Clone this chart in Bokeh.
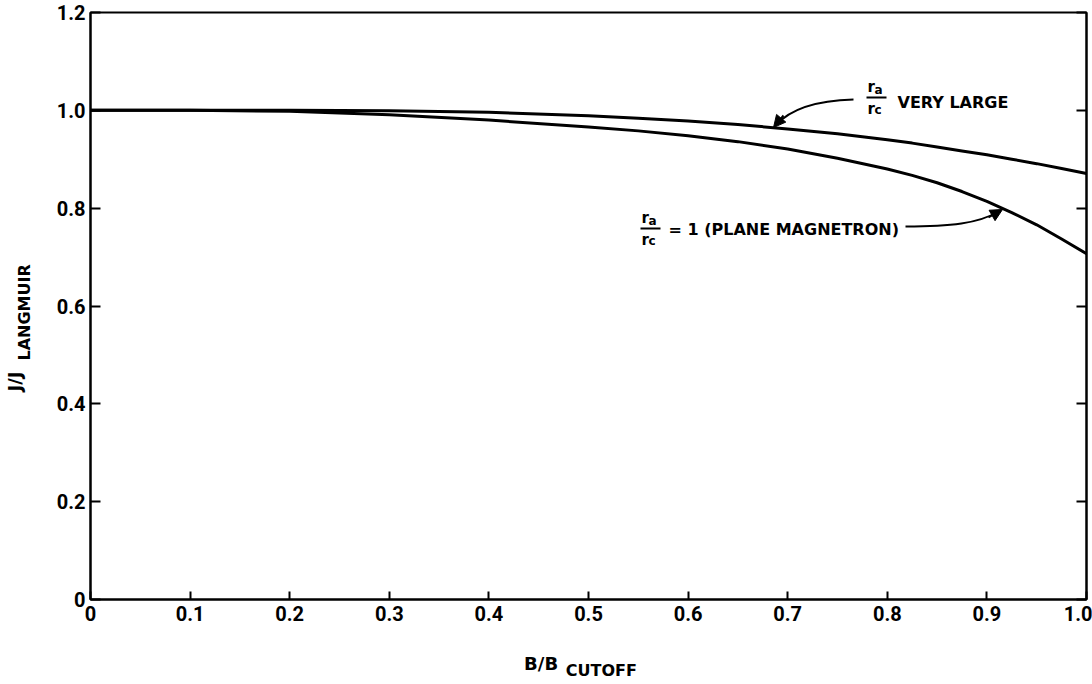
from bokeh.plotting import figure
from bokeh.models import Range1d, LinearAxis, FixedTicker, Label, Arrow, NormalHead
from bokeh.layouts import row, column
from bokeh.embed import file_html
from bokeh.resources import INLINE
import numpy as np

# ---- data ----
b_ratio = [0.0, 0.1, 0.2, 0.3, 0.4, 0.5, 0.55, 0.6, 0.65, 0.7, 0.75, 0.8, 0.825, 0.85, 0.875,
           0.9, 0.925, 0.95, 0.975, 1.0]
j_very_large = [1.0, 1.0, 1.0, 0.999, 0.996, 0.989, 0.984, 0.978, 0.971, 0.962, 0.952, 0.940, 0.933,
                0.925, 0.917, 0.909, 0.900, 0.891, 0.881, 0.871]
j_plane = [1.0, 1.0, 0.998, 0.991, 0.980, 0.966, 0.958, 0.948, 0.936, 0.921, 0.902, 0.880, 0.867,
           0.852, 0.834, 0.814, 0.791, 0.766, 0.737, 0.707]

x_ticks = [0.0, 0.1, 0.2, 0.3, 0.4, 0.5, 0.6, 0.7, 0.8, 0.9, 1.0]
x_tick_labels = ["0", "0.1", "0.2", "0.3", "0.4", "0.5", "0.6", "0.7", "0.8", "0.9", "1.0"]
y_ticks = [0.0, 0.2, 0.4, 0.6, 0.8, 1.0, 1.2]
y_tick_labels = ["0", "0.2", "0.4", "0.6", "0.8", "1.0", "1.2"]

x_title, x_title_sub = "B/B", "CUTOFF"
y_title, y_title_sub = "J/J", "LANGMUIR"

# ---- layout geometry (canvas pixels) ----
W, H = 1092, 684
LW = 40            # width of the strip holding the y title
BH = 44            # height of the strip holding the x title
MW, MH = W - LW, H - BH
L, R, T, B = 90, 6, 12, 85   # frame edges measured on the whole canvas
X0, X1, Y0, Y1 = 0.0, 1.0, 0.0, 1.2
BASE_SHIFT = 6     # correction for where the text baseline lands
XT_SHIFT = 25      # correction for the x-title strip

def dx(px):
    return X0 + (px - L) / (W - L - R) * (X1 - X0)

def dy(py):
    return Y0 + (H - B - py) / (H - B - T) * (Y1 - Y0)

p = figure(width=MW, height=MH, x_range=Range1d(X0, X1), y_range=Range1d(Y0, Y1),
           output_backend="svg", toolbar_location=None,
           min_border_left=L - LW, min_border_right=R, min_border_top=T,
           min_border_bottom=B - BH)
p.grid.visible = False
p.background_fill_color = "white"
p.border_fill_color = "white"
p.outline_line_color = "black"
p.outline_line_width = 2

TICK_FONT = "Roboto"
for ax in p.xaxis:
    ax.ticker = FixedTicker(ticks=x_ticks)
    ax.major_label_overrides = {t: s for t, s in zip(x_ticks, x_tick_labels)}
    ax.major_tick_in = 8
    ax.major_tick_out = 0
    ax.minor_tick_line_color = None
    ax.axis_line_width = 2
    ax.major_tick_line_width = 2
    ax.major_label_text_font = TICK_FONT
    ax.major_label_text_font_style = "bold"
    ax.major_label_text_font_size = "20px"
    ax.major_label_text_color = "black"
    ax.major_label_standoff = 6
for ax in p.yaxis:
    ax.ticker = FixedTicker(ticks=y_ticks)
    ax.major_label_overrides = {t: s for t, s in zip(y_ticks, y_tick_labels)}
    ax.major_tick_in = 10
    ax.major_tick_out = 0
    ax.minor_tick_line_color = None
    ax.axis_line_width = 2
    ax.major_tick_line_width = 2
    ax.major_label_text_font = TICK_FONT
    ax.major_label_text_font_style = "bold"
    ax.major_label_text_font_size = "20px"
    ax.major_label_text_color = "black"
    ax.major_label_standoff = 5

right = LinearAxis(ticker=FixedTicker(ticks=y_ticks), major_tick_in=10, major_tick_out=0,
                   minor_tick_line_color=None, major_label_overrides={t: "" for t in y_ticks},
                   major_label_standoff=0, axis_line_width=2, major_tick_line_width=2)
p.add_layout(right, "right")

# curves
p.line(b_ratio, j_very_large, line_color="black", line_width=3)
p.line(b_ratio, j_plane, line_color="black", line_width=3)

FONT = "DejaVu Sans"

def lab(fig, px, py, text, size="16px", align="left", baseline="alphabetic", angle=0.0,
        style="bold", units="canvas"):
    fig.add_layout(Label(x=px, y=py, x_units=units, y_units=units, text=text,
                         text_font=FONT, text_font_size=size,
                         text_font_style=style, text_align=align, text_baseline=baseline,
                         angle=angle, text_color="black"))

def mlab(px, py, text, **kw):
    # main-figure label; px/py are whole-canvas pixels
    lab(p, px - LW, py, text, **kw)

def fraction(px, py_bar, sub_top, sub_bot):
    mlab(px + 1, py_bar - 2, "r", size="15px", baseline="bottom")
    mlab(px + 8, py_bar - 1, sub_top, size="12px", baseline="bottom")
    p.add_layout(Arrow(x_start=dx(px), y_start=dy(py_bar), x_end=dx(px + 20), y_end=dy(py_bar),
                       end=None, line_width=2, line_color="black"))
    mlab(px + 1, py_bar + 2, "r", size="15px", baseline="top")
    mlab(px + 8, py_bar + 5, sub_bot, size="12px", baseline="top")

# annotation: very large
fraction(866, 97, "a", "c")
mlab(897, 108 - BASE_SHIFT, "VERY LARGE", size="16px")
bx = [dx(853), dx(815), dx(790), dx(775)]
by = [dy(99), dy(100), dy(108), dy(125)]
p.bezier(x0=[bx[0]], y0=[by[0]], cx0=[bx[1]], cy0=[by[1]], cx1=[bx[2]], cy1=[by[2]],
         x1=[bx[3]], y1=[by[3]], line_color="black", line_width=2)
p.add_layout(Arrow(x_start=dx(783), y_start=dy(115), x_end=dx(773), y_end=dy(127),
                   end=NormalHead(size=12, fill_color="black", line_color="black"),
                   line_width=2, line_color="black"))

# annotation: plane magnetron
fraction(640, 228, "a", "c")
mlab(668, 235 - BASE_SHIFT, "= 1 (PLANE MAGNETRON)", size="16px")
cx = [dx(905), dx(950), dx(978), dx(998)]
cy = [dy(226), dy(226), dy(223), dy(211)]
p.bezier(x0=[cx[0]], y0=[cy[0]], cx0=[cx[1]], cy0=[cy[1]], cx1=[cx[2]], cy1=[cy[2]],
         x1=[cx[3]], y1=[cy[3]], line_color="black", line_width=2)
p.add_layout(Arrow(x_start=dx(988), y_start=dy(217), x_end=dx(1002), y_end=dy(209),
                   end=NormalHead(size=12, fill_color="black", line_color="black"),
                   line_width=2, line_color="black"))

# ---- strips for the axis titles (data units = canvas pixels) ----
def strip(w, h, xr, yr):
    f = figure(width=w, height=h, x_range=xr, y_range=yr, output_backend="svg",
               toolbar_location=None, x_axis_location=None, y_axis_location=None,
               min_border=0, min_border_left=0, min_border_right=0,
               min_border_top=0, min_border_bottom=0)
    f.title = None
    f.grid.visible = False
    f.outline_line_color = None
    f.background_fill_color = "white"
    f.border_fill_color = "white"
    return f

left_strip = strip(LW, H, Range1d(0, LW), Range1d(H, 0))
bottom_strip = strip(MW, BH, Range1d(LW, W), Range1d(H, MH))

lab(left_strip, 20 - BASE_SHIFT, 391, y_title, size="18px", angle=np.pi / 2, units="data")
lab(left_strip, 30 - BASE_SHIFT, 360, y_title_sub, size="16px", angle=np.pi / 2, units="data")
lab(bottom_strip, 523 - XT_SHIFT, 669 - BASE_SHIFT, x_title, size="18px", units="data")
lab(bottom_strip, 567 - XT_SHIFT, 676 - BASE_SHIFT, x_title_sub, size="16px", units="data")

layout = row(left_strip, column(p, bottom_strip, spacing=0), spacing=0)
open("out.html", "w").write(file_html(layout, INLINE))
